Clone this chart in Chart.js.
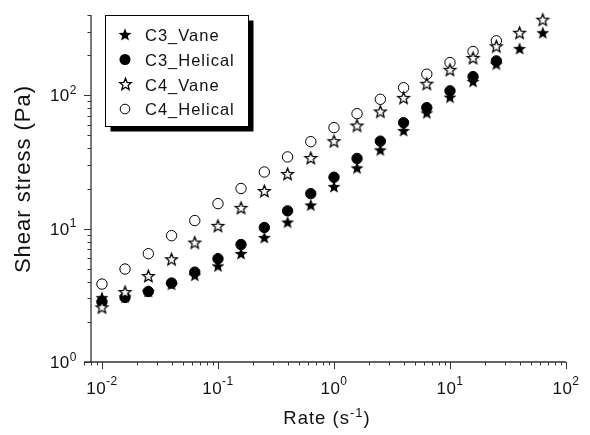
<!DOCTYPE html>
<html><head><meta charset="utf-8">
<script src="https://cdn.jsdelivr.net/npm/chart.js@4"></script>
<style>html,body{margin:0;padding:0;background:#fff}</style>
</head><body>
<canvas id="c" width="590" height="435" style="display:block;width:590px;height:435px"></canvas>
<script>
// ---- data ----
const rates = [0.01, 0.0158, 0.0251, 0.0398, 0.0631, 0.1, 0.158, 0.251, 0.398, 0.631, 1, 1.58, 2.51, 3.98, 6.31, 10, 15.8, 25.1, 39.8, 63.1];
const c3Vane = [3.01, 3.05, 3.35, 3.79, 4.43, 5.21, 6.45, 8.5, 11.1, 14.9, 20.5, 28.3, 38.6, 53.9, 73.2, 96.1, 126, 170, 222, 292];
const c3Helical = [2.83, 3.05, 3.38, 3.91, 4.72, 5.95, 7.6, 10.2, 13.6, 18.3, 24.3, 33.6, 45.3, 62.3, 80.8, 108, 138, 181];
const c4Vane = [2.55, 3.32, 4.38, 5.85, 7.8, 10.4, 14.2, 19.0, 25.5, 33.6, 44.9, 58.8, 75.0, 94.9, 121, 154, 189, 231, 292, 366];
const c4Helical = [3.84, 4.98, 6.49, 8.86, 11.5, 15.4, 20.0, 26.6, 34.5, 44.9, 57.2, 72.8, 93.3, 114, 144, 176, 213, 256];
const seriesNames = ['C3_Vane', 'C3_Helical', 'C4_Vane', 'C4_Helical'];
const xTickExps = [-2, -1, 0, 1, 2];
const yTickExps = [0, 1, 2];
const xTitle = 'Rate (s';
const xTitleSup = '-1';
const yTitle = 'Shear stress (Pa)';

const F = '"Liberation Sans", Arial, Helvetica, sans-serif';
const INK = '#111';

function starCanvas(R, r, fill, stroke, lw) {
  const s = Math.ceil(2 * R + 10);
  const cv = document.createElement('canvas');
  cv.width = s; cv.height = s;
  const g = cv.getContext('2d');
  g.translate(s / 2, s / 2);
  g.beginPath();
  for (let i = 0; i < 10; i++) {
    const a = -Math.PI / 2 + i * Math.PI / 5;
    const rad = i % 2 ? r : R;
    g.lineTo(rad * Math.cos(a), rad * Math.sin(a));
  }
  g.closePath();
  g.fillStyle = fill; g.fill();
  if (stroke) { g.strokeStyle = stroke; g.lineWidth = lw; g.stroke(); }
  return cv;
}
const filledStar = starCanvas(6.8, 2.9, '#000', null, 0);
const openStar = starCanvas(6.2, 2.7, '#fff', '#000', 1.25);

function pts(ys) { return ys.map((y, i) => ({ x: rates[i], y })); }

function setLS(ctx, v) { if ('letterSpacing' in ctx) ctx.letterSpacing = v; }

function drawPow(ctx, exp, x, y, align, expDy) {
  const es = exp < 0 ? '-' + (-exp) : String(exp);
  setLS(ctx, '0.5px');
  ctx.font = '17px ' + F;
  const w1 = ctx.measureText('10').width;
  ctx.font = '12px ' + F;
  const w2 = ctx.measureText(es).width;
  const total = w1 + w2;
  const x0 = align === 'center' ? x - total / 2 : x - total;
  ctx.textAlign = 'left'; ctx.textBaseline = 'alphabetic';
  ctx.font = '17px ' + F; ctx.fillText('10', x0, y);
  ctx.font = '12px ' + F; ctx.fillText(es, x0 + w1, y + expDy);
}

const axesPlugin = {
  id: 'axesPlugin',
  beforeDatasetsDraw(chart) {
    const ctx = chart.ctx, xs = chart.scales.x, ys = chart.scales.y, a = chart.chartArea;
    const yAxisX = a.left + 7;
    ctx.save();
    ctx.strokeStyle = '#333'; ctx.lineWidth = 1.3;
    ctx.beginPath();
    ctx.moveTo(a.left, a.bottom); ctx.lineTo(a.right, a.bottom);
    ctx.moveTo(yAxisX, a.top); ctx.lineTo(yAxisX, a.bottom);
    ctx.stroke();
    ctx.lineWidth = 1;
    ctx.beginPath();
    for (let e = -3; e <= 2; e++) {
      for (let m = 1; m <= 9; m++) {
        const v = m * Math.pow(10, e);
        if (v < xs.min * 0.999 || v > xs.max * 1.001) continue;
        const px = Math.round(xs.getPixelForValue(v)) + 0.5;
        const len = m === 1 ? 7 : 3.5;
        ctx.moveTo(px, a.bottom); ctx.lineTo(px, a.bottom + len);
      }
    }
    for (let e = 0; e <= 2; e++) {
      for (let m = 1; m <= 9; m++) {
        const v = m * Math.pow(10, e);
        if (v < ys.min * 0.999 || v > ys.max * 1.001) continue;
        const py = Math.round(ys.getPixelForValue(v)) + 0.5;
        const len = m === 1 ? 7 : 3.5;
        ctx.moveTo(yAxisX, py); ctx.lineTo(yAxisX - len, py);
      }
    }
    ctx.stroke();
    ctx.fillStyle = INK;
    xTickExps.forEach(e => {
      const px = xs.getPixelForValue(Math.pow(10, e));
      drawPow(ctx, e, px, a.bottom + 31.5, 'center', -8.5);
    });
    yTickExps.forEach(e => {
      const py = ys.getPixelForValue(Math.pow(10, e));
      drawPow(ctx, e, yAxisX - 14, py + 6, 'right', -7.5);
    });
    setLS(ctx, '1px');
    ctx.font = '18.5px ' + F;
    const w1 = ctx.measureText(xTitle).width;
    ctx.font = '13px ' + F;
    const w2 = ctx.measureText(xTitleSup).width;
    ctx.font = '18.5px ' + F;
    const w3 = ctx.measureText(')').width;
    const tx = 327 - (w1 + w2 + w3) / 2, ty = 424;
    ctx.textAlign = 'left'; ctx.textBaseline = 'alphabetic';
    ctx.fillText(xTitle, tx, ty);
    ctx.font = '13px ' + F; ctx.fillText(xTitleSup, tx + w1, ty - 7.5);
    ctx.font = '18.5px ' + F; ctx.fillText(')', tx + w1 + w2, ty);
    ctx.save();
    ctx.translate(24, 179);
    ctx.rotate(-Math.PI / 2);
    ctx.font = '22px ' + F; ctx.textAlign = 'center'; ctx.textBaseline = 'middle';
    ctx.fillText(yTitle, 0, 0);
    ctx.restore();
    ctx.restore();
  },
  afterDraw(chart) {
    const ctx = chart.ctx;
    ctx.save();
    const bx = 105.5, by = 15.5, bw = 143, bh = 111;
    ctx.fillStyle = '#000';
    ctx.fillRect(bx + 5, by + 5, bw, bh);
    ctx.fillStyle = '#fff';
    ctx.fillRect(bx, by, bw, bh);
    ctx.strokeStyle = '#000'; ctx.lineWidth = 1;
    ctx.strokeRect(bx, by, bw, bh);
    const rows = [35, 59.5, 84.5, 109];
    const mx = 125;
    ctx.drawImage(filledStar, Math.round(mx - filledStar.width / 2), Math.round(rows[0] - filledStar.height / 2));
    ctx.beginPath(); ctx.arc(mx, rows[1], 5.5, 0, Math.PI * 2); ctx.fillStyle = '#000'; ctx.fill();
    ctx.drawImage(openStar, Math.round(mx - openStar.width / 2), Math.round(rows[2] - openStar.height / 2));
    ctx.beginPath(); ctx.arc(mx, rows[3], 4.8, 0, Math.PI * 2); ctx.fillStyle = '#fff'; ctx.fill();
    ctx.strokeStyle = '#000'; ctx.lineWidth = 1; ctx.stroke();
    setLS(ctx, '1px');
    ctx.fillStyle = INK;
    ctx.font = '16.5px ' + F; ctx.textAlign = 'left'; ctx.textBaseline = 'alphabetic';
    seriesNames.forEach((n, i) => ctx.fillText(n, 145, rows[i] + 6));
    ctx.restore();
  }
};

const hidden = {
  display: true,
  grid: { display: false, drawTicks: false },
  border: { display: false },
  ticks: { display: false },
  title: { display: false }
};

new Chart(document.getElementById('c'), {
  type: 'scatter',
  data: {
    datasets: [
      { label: seriesNames[0], data: pts(c3Vane), pointStyle: filledStar, order: 4 },
      { label: seriesNames[1], data: pts(c3Helical), pointStyle: 'circle', pointRadius: 5.2, backgroundColor: '#000', borderColor: '#000', borderWidth: 1, order: 3 },
      { label: seriesNames[2], data: pts(c4Vane), pointStyle: openStar, order: 1 },
      { label: seriesNames[3], data: pts(c4Helical), pointStyle: 'circle', pointRadius: 5.2, backgroundColor: '#fff', borderColor: '#000', borderWidth: 1, order: 2 }
    ]
  },
  options: {
    responsive: false,
    animation: false,
    events: [],
    layout: { padding: { left: 84, right: 24, top: 15, bottom: 73 } },
    plugins: { legend: { display: false }, tooltip: { enabled: false } },
    scales: {
      x: Object.assign({}, hidden, { type: 'logarithmic', min: 0.007, max: 100, afterFit(s) { s.height = 0; } }),
      y: Object.assign({}, hidden, { type: 'logarithmic', min: 1, max: 400, afterFit(s) { s.width = 0; } })
    },
    elements: { point: { radius: 6, hoverRadius: 6 } },
    clip: false
  },
  plugins: [axesPlugin]
});
</script>
</body></html>
